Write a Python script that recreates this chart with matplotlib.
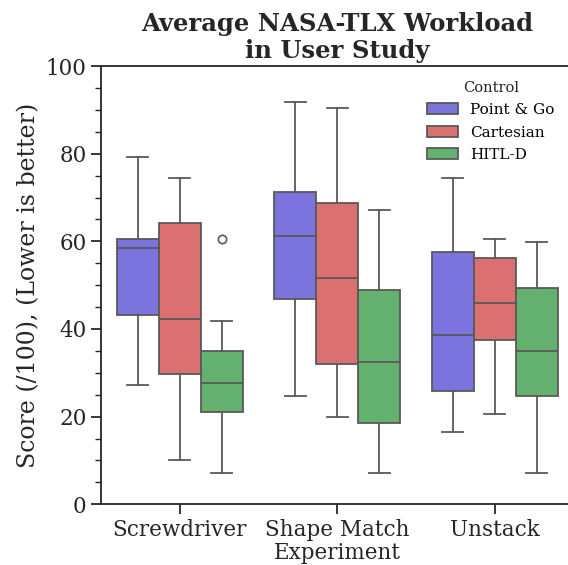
import matplotlib
matplotlib.use("Agg")
import matplotlib.pyplot as plt
from matplotlib.patches import Patch
from matplotlib.ticker import MultipleLocator

# box statistics (per experiment, per control)
experiments = ["Screwdriver", "Shape Match", "Unstack"]
controls = ["Point & Go", "Cartesian", "HITL-D"]
colors = ["#7b73de", "#da7070", "#64b06e"]

# rows: experiment, cols: control
whislo = [[27.3, 10.0, 7.2], [24.6, 19.9, 7.2], [16.6, 20.6, 7.2]]
q1 = [[43.2, 29.7, 21.1], [46.8, 32.1, 18.5], [25.9, 37.5, 24.6]]
med = [[58.6, 42.3, 27.7], [61.3, 51.6, 32.4], [38.6, 45.9, 34.9]]
q3 = [[60.5, 64.2, 34.9], [71.3, 68.7, 49.0], [57.5, 56.2, 49.3]]
whishi = [[79.2, 74.5, 41.9], [91.9, 90.5, 67.1], [74.5, 60.5, 59.8]]
fliers = [[[], [], [60.5]], [[], [], []], [[], [], []]]

plt.rcParams["font.family"] = "DejaVu Serif"
edge = "#595959"
ink = "#262626"

fig = plt.figure(figsize=(5.68, 5.65), dpi=100)
ax = fig.add_axes([0.178, 0.1075, 0.832, 0.7755])

width = 0.8 / len(controls)
for i, exp in enumerate(experiments):
    for j, ctrl in enumerate(controls):
        pos = i - 0.4 + width * (j + 0.5)
        stats = [dict(whislo=whislo[i][j], q1=q1[i][j], med=med[i][j],
                      q3=q3[i][j], whishi=whishi[i][j], fliers=fliers[i][j])]
        ax.bxp(stats, positions=[pos], widths=width, patch_artist=True,
               manage_ticks=False, capwidths=width / 2,
               boxprops=dict(facecolor=colors[j], edgecolor=edge, linewidth=1.3),
               medianprops=dict(color=edge, linewidth=1.3),
               whiskerprops=dict(color=edge, linewidth=1.3),
               capprops=dict(color=edge, linewidth=1.3),
               flierprops=dict(marker="o", markersize=6, markerfacecolor="none",
                               markeredgecolor=edge, markeredgewidth=1.2))

ax.set_xlim(-0.5, len(experiments) - 0.5)
ax.set_ylim(0, 100)
ax.set_xticks(range(len(experiments)))
ax.set_xticklabels(experiments)
ax.yaxis.set_major_locator(MultipleLocator(20))
ax.yaxis.set_minor_locator(MultipleLocator(5))
ax.tick_params(axis="both", which="major", labelsize=15.5, length=7, width=1.3,
               color=ink, labelcolor=ink)
ax.tick_params(axis="y", which="minor", length=4, width=1.0, color=ink)
for s in ax.spines.values():
    s.set_linewidth(1.3)
    s.set_color(ink)

ax.set_xlabel("Experiment", fontsize=15.5, color=ink, labelpad=1)
ax.set_ylabel("Score (/100), (Lower is better)", fontsize=17, color=ink)
ax.set_title("Average NASA-TLX Workload\nin User Study", fontsize=17.5,
             fontweight="bold", color=ink, linespacing=1.15, pad=6)

handles = [Patch(facecolor=c, edgecolor=edge, linewidth=1.3, label=l)
           for c, l in zip(colors, controls)]
leg = ax.legend(handles=handles, title="Control", loc="upper right",
                frameon=False, fontsize=11, title_fontsize=10.5,
                labelspacing=0.55, bbox_to_anchor=(0.988, 0.998))
leg.get_title().set_color(ink)

fig.savefig("out.png", dpi=100)
